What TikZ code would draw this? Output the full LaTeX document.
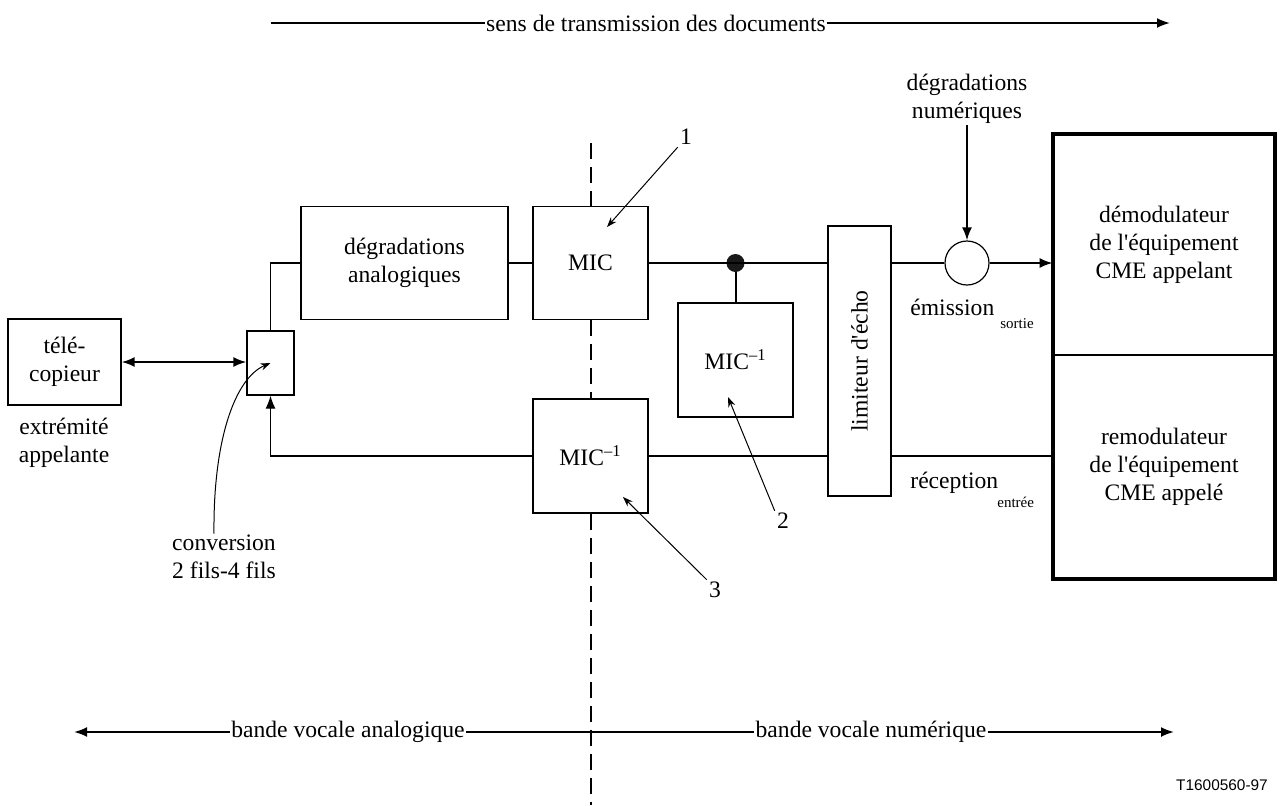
\documentclass[tikz,border=0pt]{standalone}
\usepackage{fontspec}
\setmainfont{Liberation Serif}
\setsansfont{Liberation Sans}
\usetikzlibrary{arrows.meta,shapes}

\begin{document}
\begin{tikzpicture}[x=0.5pt,y=-0.5pt,>={Latex[length=6.5pt,width=5pt]},
    font=\fontsize{11.8}{14}\selectfont,
    blok/.style={draw,line width=0.6pt,fill=white,inner sep=0pt,align=center},
    lien/.style={line width=1pt},
    fin/.style={line width=0.6pt},
    tirets/.style={line width=1pt,dash pattern=on 8pt off 4pt},
    renvoi/.style={line width=0.5pt,-{Stealth[length=5pt,width=3.6pt]}},
    legende/.style={inner sep=0.5pt,align=center}]
    \useasboundingbox (0,0) rectangle (1281,805);

    % direction des documents
    \node[legende] (sens) at (656,23) {sens de transmission des documents};
    \coordinate (s0) at (271,23);
    \coordinate (s1) at (1170,23);
    \draw[lien] (s0) -- (sens.west);
    \draw[lien,->] (sens.east) -- (s1);

    % blocs
    \node[blok,minimum width=56.5pt,minimum height=43pt] (fax) at (64.5,362) {télé-\\copieur};
    \node[legende] (ext) at (64,443) {extrémité\\appelante};
    \node[blok,minimum width=23.5pt,minimum height=32pt] (conv) at (270.5,363) {};
    \node[legende] (cv) at (224,557) {conversion\\2 fils-4 fils};
    \node[blok,minimum width=103.5pt,minimum height=56.5pt] (degr) at (404.5,263) {dégradations\\analogiques};
    \node[blok,minimum width=57.5pt,minimum height=56.5pt] (mic) at (590.5,263) {MIC};
    \node[blok,minimum width=57.5pt,minimum height=57pt] (micinv) at (590.5,456) {MIC\textsuperscript{–1}};
    \node[blok,minimum width=57.5pt,minimum height=57pt] (micloc) at (735.5,360) {MIC\textsuperscript{–1}};
    \node[blok,minimum width=31.5pt,minimum height=135pt] (lim) at (859.5,361) {};
    \node[rotate=90] (limtxt) at (lim) {limiteur d\textquotesingle{}écho};
    \node[circle,draw,line width=0.6pt,minimum size=22pt,inner sep=0pt] (som) at (967,263) {};
    \node[legende] (dn) at (967,99) {dégradations\\numériques};
    \node[circle,fill=black!90,minimum size=9pt,inner sep=0pt] (pt) at (mic.east -| micloc.north) {};

    % equipement CME
    \node[minimum width=111pt,minimum height=110.5pt,inner sep=0pt,align=center] (dem) at (1164,244.5)
        {démodulateur\\de l\textquotesingle{}équipement\\CME appelant};
    \node[minimum width=111pt,minimum height=111.5pt,inner sep=0pt,align=center] (rem) at (1164,467)
        {remodulateur\\de l\textquotesingle{}équipement\\CME appelé};
    \draw[line width=2pt] (dem.north west) rectangle (rem.south east);
    \draw[lien] (dem.south west) -- (dem.south east);

    \node[anchor=base west,inner sep=0pt] (em) at (910,315) {émission};
    \node[anchor=base west,inner sep=0pt,font=\fontsize{7.5}{9}\selectfont] (so) at (1000,328) {sortie};
    \node[anchor=base west,inner sep=0pt] (rec) at (910,488) {réception};
    \node[anchor=base west,inner sep=0pt,font=\fontsize{7.5}{9}\selectfont] (en) at (997,507) {entrée};

    % liaisons
    \draw[lien,<->] (fax.east) -- (fax.east -| conv.west);
    \draw[fin] (conv.north) |- (degr.west);
    \draw[lien] (degr.east) -- (mic.west);
    \draw[lien] (mic.east) -- (lim.west |- mic.east);
    \draw[lien] (pt) -- (micloc.north);
    \draw[lien] (lim.east |- som.west) -- (som.west);
    \draw[lien,->] (som.east) -- (som.east -| dem.west);
    \draw[lien,->] (dn.south) -- (som.north);
    \draw[lien] (rem.west |- micinv.east) -- (lim.east |- micinv.east);
    \draw[lien] (lim.west |- micinv.east) -- (micinv.east);
    \draw[fin,->] (micinv.west) -| (conv.south);

    % limite analogique / numerique
    \coordinate (dh) at (590.5,143);
    \coordinate (db) at (590.5,805);
    \draw[tirets] (dh) -- (mic.north);
    \draw[tirets] (mic.south) -- (micinv.north);
    \draw[tirets] (micinv.south) -- (db);

    % renvois
    \draw[renvoi] ([xshift=-5pt]cv.north) .. controls (213,440) and (235,378) .. (conv.center);
    \node[inner sep=1pt] (r1) at (686,137) {1};
    \node[inner sep=1pt] (r2) at (783,521) {2};
    \node[inner sep=1pt] (r3) at (715,590) {3};
    \coordinate (c1) at (607,227);
    \coordinate (c2) at (728,397);
    \coordinate (c3) at (623,497);
    \draw[renvoi] (r1.south west) -- (c1);
    \draw[renvoi] (r2.north west) -- (c2);
    \draw[renvoi] (r3.north west) -- (c3);

    % bandes vocales
    \node[legende] (ana) at (348,732) {bande vocale analogique};
    \node[legende] (num) at (871,732) {bande vocale numérique};
    \coordinate (b0) at (74,732);
    \coordinate (b1) at (1174,732);
    \draw[lien,->] (ana.west) -- (b0);
    \draw[lien] (ana.east) -- (num.west);
    \draw[lien,->] (num.east) -- (b1);

    \node[font=\sffamily\fontsize{7.7}{9}\selectfont] (ref) at (1222,785) {T1600560-97};
\end{tikzpicture}
\end{document}
